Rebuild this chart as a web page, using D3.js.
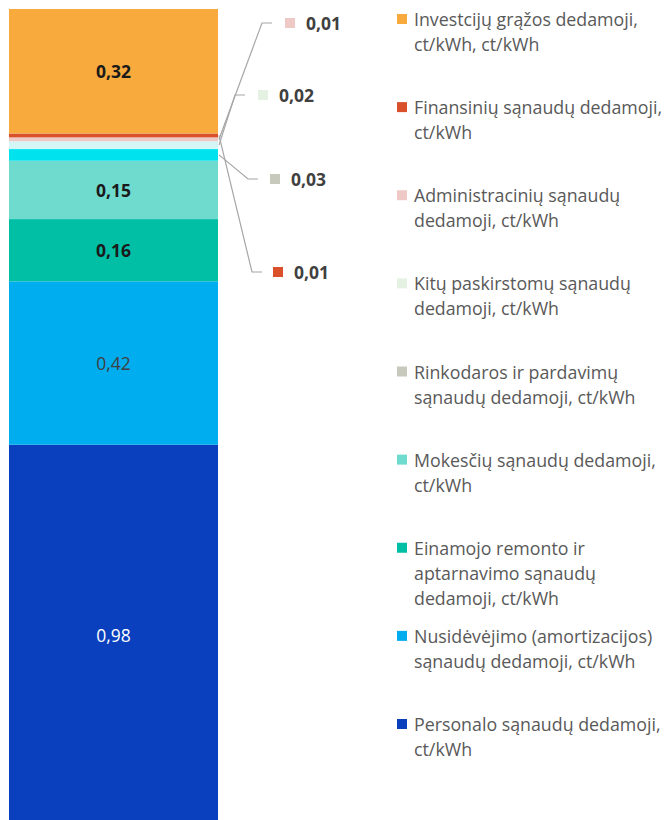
<!DOCTYPE html>
<html>
<head>
<meta charset="utf-8">
<script src="https://cdn.jsdelivr.net/npm/d3@7"></script>
<style>
  body { margin: 0; background: #fff; }
  svg { display: block; }
</style>
</head>
<body>
<div class="chart"></div>
<script>
// stack order, bottom to top
const categories = [
  'Personalo sąnaudų dedamoji,\nct/kWh',
  'Nusidėvėjimo (amortizacijos)\nsąnaudų dedamoji, ct/kWh',
  'Einamojo remonto ir\naptarnavimo sąnaudų\ndedamoji, ct/kWh',
  'Mokesčių sąnaudų dedamoji,\nct/kWh',
  'Rinkodaros ir pardavimų\nsąnaudų dedamoji, ct/kWh',
  'Kitų paskirstomų sąnaudų\ndedamoji, ct/kWh',
  'Administracinių sąnaudų\ndedamoji, ct/kWh',
  'Finansinių sąnaudų dedamoji,\nct/kWh',
  'Investcijų grąžos dedamoji,\nct/kWh, ct/kWh'
];
const values = [0.98, 0.42, 0.16, 0.15, 0.03, 0.02, 0.01, 0.01, 0.32];
const valueLabels = ['0,98', '0,42', '0,16', '0,15', '0,03', '0,02', '0,01', '0,01', '0,32'];

const legendColors = ['#0a3fbd', '#00aeef', '#00bfa5', '#6fdbcf', '#c8c9bd', '#e5f2e3', '#efc9c5', '#d9502a', '#f8aa3c'];
const barColors    = ['#0a3fbd', '#00aeef', '#00bfa5', '#6fdbcf', '#00e3ee', '#d5f6f6', '#efc9c5', '#d9502a', '#f8aa3c'];
const labelStyle = [
  { fill: '#ffffff', weight: 'normal' },
  { fill: '#404040', weight: 'normal' },
  { fill: '#1a1a1a', weight: 'bold' },
  { fill: '#1a1a1a', weight: 'bold' },
  null, null, null, null,
  { fill: '#1a1a1a', weight: 'bold' }
];
// callout layout: label row y, elbow x, marker x
const callouts = [
  { seg: 6, y: 23,  elbowX: 262, markerX: 285 },
  { seg: 5, y: 95,  elbowX: 235, markerX: 258 },
  { seg: 4, y: 179, elbowX: 248, markerX: 270 },
  { seg: 7, y: 272, elbowX: 252, markerX: 273 }
];

const w = 666, h = 820;
const font = "'Open Sans', 'Noto Sans', sans-serif";

const svg = d3.select('.chart')
  .append('svg')
  .attr('width', w)
  .attr('height', h)
  .attr('viewBox', `0 0 ${w} ${h}`)
  .style('font-family', font);

let acc = 0;
const stacked = values.map((v, i) => {
  const d = { i, y0: acc, y1: acc + v };
  acc += v;
  return d;
});

const yScale = d3.scaleLinear()
  .domain([0, d3.sum(values)])
  .range([826, 9]);

const xScale = d3.scaleBand()
  .domain(['bar'])
  .range([9, 218]);

svg.append('g')
  .selectAll('rect')
  .data(stacked)
  .join('rect')
  .attr('x', xScale('bar'))
  .attr('width', xScale.bandwidth())
  .attr('y', d => yScale(d.y1))
  .attr('height', d => yScale(d.y0) - yScale(d.y1))
  .attr('fill', d => barColors[d.i]);

// labels inside the bar
svg.append('g')
  .selectAll('text')
  .data(stacked.filter(d => labelStyle[d.i]))
  .join('text')
  .attr('x', xScale('bar') + xScale.bandwidth() / 2)
  .attr('y', d => yScale((d.y0 + d.y1) / 2))
  .attr('text-anchor', 'middle')
  .attr('dominant-baseline', 'central')
  .attr('font-size', 17.5)
  .attr('font-weight', d => labelStyle[d.i].weight)
  .attr('fill', d => labelStyle[d.i].fill)
  .text(d => valueLabels[d.i]);

// callouts with leader lines
const right = xScale('bar') + xScale.bandwidth() + 1;
const co = svg.append('g')
  .selectAll('g')
  .data(callouts)
  .join('g');

co.append('path')
  .attr('fill', 'none')
  .attr('stroke', '#a6a6a6')
  .attr('stroke-width', 1.2)
  .attr('d', c => {
    const s = stacked[c.seg];
    const y0 = yScale((s.y0 + s.y1) / 2);
    return `M${right},${y0}L${c.elbowX},${c.y}L${c.elbowX + 10},${c.y}`;
  });

co.append('rect')
  .attr('x', c => c.markerX)
  .attr('y', c => c.y - 5)
  .attr('width', 10)
  .attr('height', 10)
  .attr('fill', c => legendColors[c.seg]);

co.append('text')
  .attr('x', c => c.markerX + 21)
  .attr('y', c => c.y)
  .attr('dominant-baseline', 'central')
  .attr('font-size', 17.5)
  .attr('font-weight', 'bold')
  .attr('fill', '#404040')
  .text(c => valueLabels[c.seg]);

// legend, top to bottom
const legendOrder = d3.range(values.length).reverse();
const legendY = d3.scalePoint()
  .domain(legendOrder)
  .range([19, 724]);

const lg = svg.append('g')
  .selectAll('g')
  .data(legendOrder)
  .join('g')
  .attr('transform', i => `translate(397, ${legendY(i)})`);

lg.append('rect')
  .attr('x', 0)
  .attr('y', -5)
  .attr('width', 10)
  .attr('height', 10)
  .attr('fill', i => legendColors[i]);

lg.append('text')
  .attr('font-size', 17.8)
  .attr('fill', '#595959')
  .selectAll('tspan')
  .data(i => categories[i].split('\n'))
  .join('tspan')
  .attr('x', 17)
  .attr('y', (d, k) => k * 25)
  .attr('dominant-baseline', 'central')
  .text(d => d);
</script>
</body>
</html>
